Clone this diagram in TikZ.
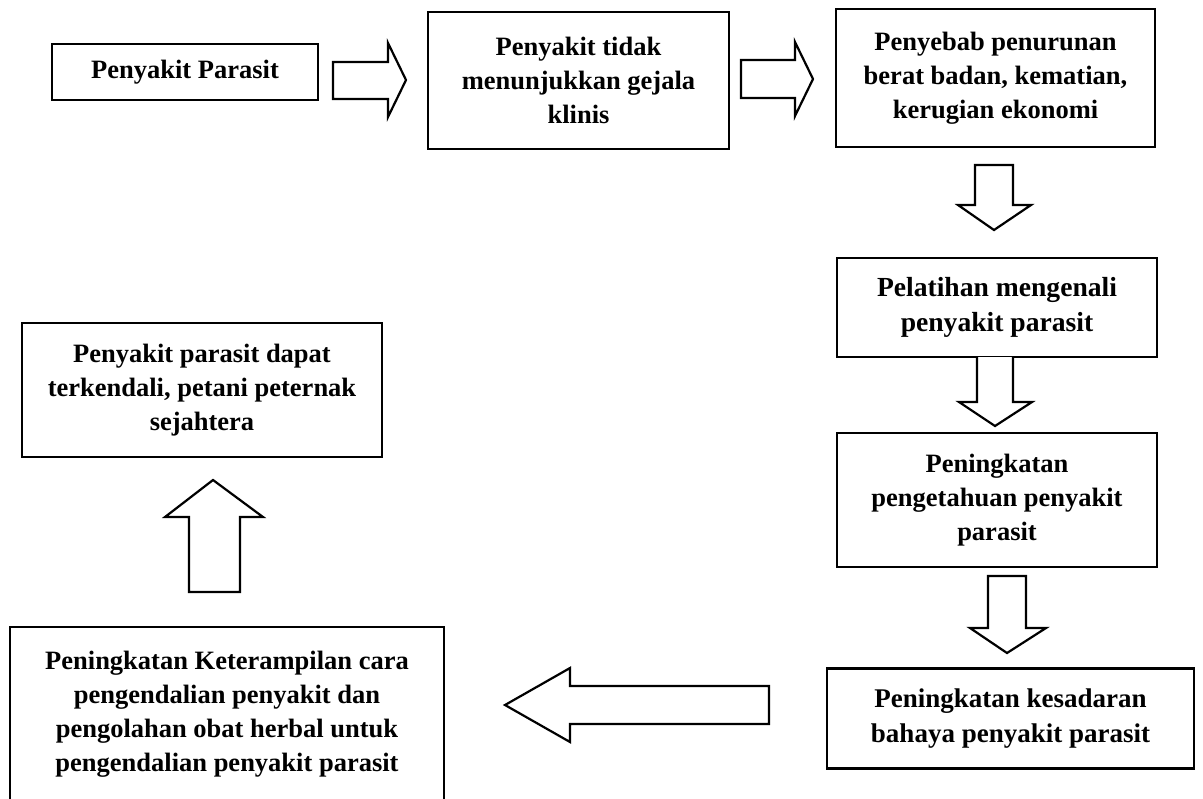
\documentclass[tikz,border=0pt]{standalone}
\usepackage{fontspec}
\setmainfont{Liberation Serif}
\begin{document}
\begin{tikzpicture}[x=0.5pt,y=-0.5pt,
  box/.style={draw, line width=1.1pt, align=center, inner sep=0pt,
    font=\bfseries\fontsize{13.25}{17}\selectfont},
  loosetext/.style={font=\bfseries\fontsize{13.5}{17.5}\selectfont},
  midtext/.style={font=\bfseries\fontsize{13.8}{17.5}\selectfont},
  blk/.style={draw, line width=1.1pt, line join=miter, fill=white}]
\useasboundingbox (0,0) rectangle (1203,798);
\fill[white] (0,0) rectangle (1203,798);
\begin{scope}
\clip (0,0) rectangle (1203,798);
% boxes
\node[box, minimum width=133pt, minimum height=28pt] (b1) at (185,72) {Penyakit Parasit};
\node[box, minimum width=150.5pt, minimum height=68.5pt] (b2) at (578.5,80.5) {Penyakit tidak\\menunjukkan gejala\\klinis};
\node[box, minimum width=159.5pt, minimum height=69pt] (b3) at (995.5,78) {Penyebab penurunan\\berat badan, kematian,\\kerugian ekonomi};
\node[box, midtext, minimum width=160pt, minimum height=49.5pt] (b4) at (997,307.5) {Pelatihan mengenali\\penyakit parasit};
\node[box, minimum width=160pt, minimum height=67pt] (b5) at (997,500) {Peningkatan\\pengetahuan penyakit\\parasit};
\node[box, loosetext, minimum width=183.5pt, minimum height=50pt] (b6) at (1010.5,718.5) {Peningkatan kesadaran\\bahaya penyakit parasit};
\node[box, minimum width=217pt, minimum height=87.5pt] (b7) at (227,714.5) {Peningkatan Keterampilan cara\\pengendalian penyakit dan\\pengolahan obat herbal untuk\\pengendalian penyakit parasit};
\node[box, minimum width=180pt, minimum height=67pt] (b8) at (202,390) {Penyakit parasit dapat\\terkendali, petani peternak\\sejahtera};
% block arrows
\draw[blk] (333,62) -- (388,62) -- (388,43) -- (406,80) -- (388,117) -- (388,99) -- (333,99) -- cycle;
\draw[blk] (741,60) -- (795,60) -- (795,42) -- (813,79) -- (795,116) -- (795,98) -- (741,98) -- cycle;
\draw[blk] (975,165) -- (975,205) -- (958,205) -- (994,230) -- (1031,205) -- (1013,205) -- (1013,165) -- cycle;
\draw[blk] (977,357) -- (977,402) -- (959,402) -- (995,426) -- (1032,402) -- (1013,402) -- (1013,357);
\draw[blk] (988,576) -- (988,628) -- (970,628) -- (1007,653) -- (1046,628) -- (1026,628) -- (1026,576) -- cycle;
\draw[blk] (769,686) -- (570,686) -- (570,668) -- (505,705) -- (570,742) -- (570,724) -- (769,724) -- cycle;
\draw[blk] (189,592) -- (189,517) -- (165,517) -- (213,480) -- (263,517) -- (240,517) -- (240,592) -- cycle;
\end{scope}
\end{tikzpicture}
\end{document}
